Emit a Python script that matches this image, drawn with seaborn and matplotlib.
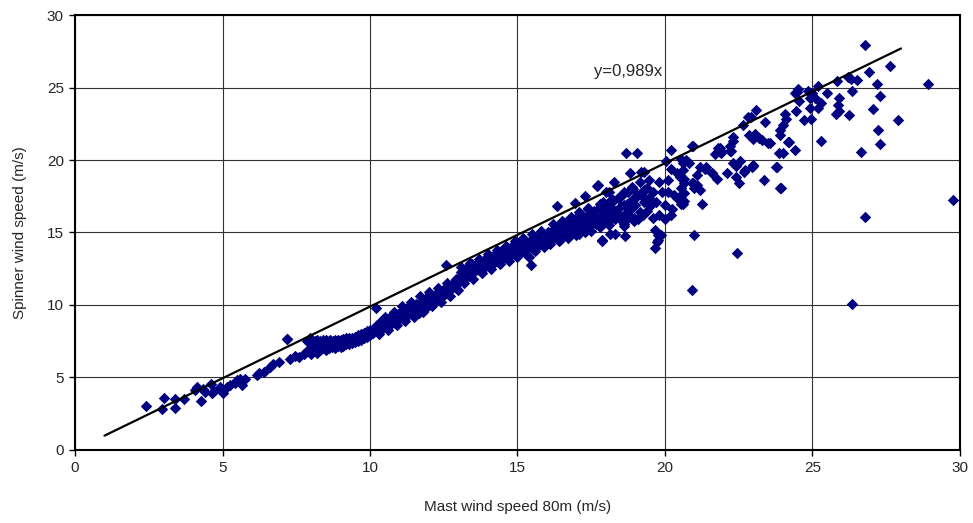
import numpy as np
import pandas as pd
import seaborn as sns
import matplotlib.pyplot as plt

# Sparse low-speed points
low_x = [2.4, 2.95, 3.0, 3.4, 3.4, 3.7, 4.07, 4.13, 4.27, 4.34, 4.4, 4.6, 4.65, 4.7,
         4.9, 5.0, 5.15, 5.25, 5.42, 5.5, 5.6, 5.65, 5.75, 6.16, 6.25, 6.4, 6.6, 6.7,
         6.9, 7.2, 7.3, 7.45, 7.6, 7.75]
low_y = [3.03, 2.8, 3.6, 3.5, 2.9, 3.5, 4.14, 4.35, 3.4, 4.2, 4.0, 4.55, 3.95, 4.1,
         4.37, 3.95, 4.35, 4.45, 4.6, 4.8, 4.87, 4.45, 4.9, 5.17, 5.3, 5.4, 5.7, 5.9,
         6.1, 7.65, 6.3, 6.5, 6.4, 6.6]

# Dense flat cluster 7.8 - 10 m/s
cl_x = [7.8, 7.85, 7.9, 7.95, 8.0, 8.0, 8.05, 8.1, 8.1, 8.15, 8.2, 8.2, 8.25, 8.3, 8.3,
        8.35, 8.4, 8.4, 8.45, 8.5, 8.5, 8.55, 8.6, 8.6, 8.65, 8.7, 8.7, 8.75, 8.8, 8.8,
        8.85, 8.9, 8.9, 8.95, 9.0, 9.0, 9.05, 9.1, 9.1, 9.15, 9.2, 9.2, 9.25, 9.3, 9.3,
        9.35, 9.4, 9.4, 9.45, 9.5, 9.5, 9.55, 9.6, 9.6, 9.65, 9.7, 9.7, 9.75, 9.8, 9.8,
        9.85, 9.9, 9.9, 9.95, 10.0, 10.0]
cl_y = [6.7, 7.5, 6.9, 7.7, 6.6, 7.3, 7.6, 6.8, 7.1, 7.5, 6.7, 7.6, 7.2, 6.9, 7.55,
        7.3, 7.0, 7.6, 7.4, 6.9, 7.6, 7.2, 7.0, 7.5, 7.6, 7.1, 7.4, 7.55, 7.0, 7.6,
        7.3, 7.2, 7.6, 7.45, 7.1, 7.6, 7.35, 7.2, 7.65, 7.5, 7.3, 7.7, 7.5, 7.3, 7.7,
        7.55, 7.4, 7.75, 7.6, 7.45, 7.8, 7.65, 7.5, 7.9, 7.7, 7.6, 8.0, 7.8, 7.7, 8.1,
        7.9, 7.8, 8.2, 8.0, 7.9, 8.3]

# Rising band 10 - 13 m/s
b1_x = [10.1, 10.15, 10.2, 10.25, 10.3, 10.35, 10.4, 10.45, 10.5, 10.55, 10.6, 10.65,
        10.7, 10.75, 10.8, 10.85, 10.9, 10.95, 11.0, 11.05, 11.1, 11.15, 11.2, 11.25,
        11.3, 11.35, 11.4, 11.45, 11.5, 11.55, 11.6, 11.7, 11.75, 11.8, 11.85, 11.9,
        12.0, 12.05, 12.1, 12.2, 12.25, 12.3, 12.4, 12.45, 12.5, 12.6, 12.65, 12.7,
        12.8, 12.85, 12.9, 13.0, 11.65, 11.95, 12.65, 10.85,
        10.3, 10.6, 10.9, 11.2, 11.5, 11.8, 12.1, 12.4, 12.7, 13.0, 10.5, 10.8, 11.1,
        11.4, 11.7, 12.0, 12.3, 12.6, 12.9]
b1_y = [8.1, 8.4, 8.2, 8.6, 8.3, 8.8, 8.5, 8.4, 8.9, 8.6, 8.8, 9.1, 8.7, 9.0, 9.2,
        8.75, 9.1, 9.4, 9.0, 9.3, 9.6, 9.2, 9.5, 9.8, 9.3, 9.7, 9.5, 9.9, 9.6, 10.1,
        9.8, 10.0, 10.3, 9.9, 10.2, 10.5, 10.1, 10.4, 10.7, 10.3, 10.6, 10.9, 10.5,
        10.9, 11.1, 10.8, 11.2, 11.0, 11.3, 11.6, 11.2, 11.5, 9.45, 9.9, 10.9, 8.75,
        8.0, 8.3, 8.6, 8.9, 9.2, 9.5, 9.9, 10.2, 10.6, 11.0, 9.2, 9.5, 9.9,
        10.2, 10.6, 10.9, 11.2, 11.5, 11.8]

# Band 13 - 16 m/s
b2_x = [13.05, 13.1, 13.15, 13.2, 13.3, 13.35, 13.4, 13.45, 13.5, 13.6, 13.65, 13.7,
        13.8, 13.85, 13.9, 14.0, 14.05, 14.1, 14.2, 14.25, 14.3, 14.4, 14.45, 14.5,
        14.6, 14.65, 14.7, 14.8, 14.85, 14.9, 15.0, 15.05, 15.1, 15.2, 15.25, 15.3,
        15.4, 15.45, 15.5, 15.6, 15.65, 15.7, 15.8, 15.85, 15.9, 16.0,
        13.2, 13.5, 13.8, 14.1, 14.4, 14.7, 15.0, 15.3, 15.6, 15.9, 13.4, 13.7, 14.0,
        14.3, 14.6, 14.9, 15.2, 15.5, 15.8, 13.1, 14.2, 14.8, 15.4]
b2_y = [11.9, 12.3, 11.7, 12.1, 12.6, 12.0, 12.4, 12.8, 12.2, 12.6, 12.9, 12.4,
        12.8, 13.1, 12.6, 13.0, 13.3, 12.8, 13.2, 13.5, 13.0, 13.4, 13.7, 13.2,
        13.6, 13.9, 13.3, 13.7, 14.0, 13.5, 13.8, 14.2, 13.6, 14.0, 14.3, 13.8,
        14.2, 14.5, 13.9, 14.3, 14.6, 14.1, 14.5, 14.8, 14.2, 14.6,
        11.5, 11.8, 12.2, 12.5, 12.8, 13.0, 13.3, 13.5, 13.7, 14.0, 12.9, 13.2, 13.5,
        13.8, 14.1, 14.4, 14.6, 14.9, 15.1, 12.6, 12.9, 14.1, 13.3]

# Widening band 16 - 19.5 m/s
b3_x = [16.05, 16.1, 16.15, 16.2, 16.25, 16.3, 16.35, 16.4, 16.45, 16.5, 16.55, 16.6,
        16.65, 16.7, 16.75, 16.8, 16.85, 16.9, 16.95, 17.0, 17.05, 17.1, 17.15, 17.2,
        17.25, 17.3, 17.35, 17.4, 17.45, 17.5, 17.55, 17.6, 17.65, 17.7, 17.75, 17.8,
        17.85, 17.9, 17.95, 18.0, 18.05, 18.1, 18.15, 18.2, 18.25, 18.3, 18.35, 18.4,
        18.45, 18.5, 18.55, 18.6, 18.65, 18.7, 18.75, 18.8, 18.85, 18.9, 18.95, 19.0,
        19.05, 19.1, 19.15, 19.2, 19.25, 19.3, 19.35, 19.4, 19.45, 19.5,
        17.2, 17.6, 17.9, 18.1, 18.3, 18.4, 18.6, 18.8, 19.0, 19.2, 19.4, 17.4, 17.8,
        18.2, 18.5, 18.9,
        16.1, 16.4, 16.7, 17.0, 17.3, 16.2, 16.5, 16.8, 17.1, 17.4]
b3_y = [15.0, 14.4, 14.8, 15.2, 14.6, 15.0, 15.4, 14.7, 15.1, 15.5, 14.9, 15.3,
        15.7, 15.0, 15.4, 15.8, 15.1, 15.6, 15.2, 16.0, 15.4, 14.9, 15.8, 16.2,
        15.3, 15.7, 16.1, 15.5, 16.3, 15.1, 15.9, 16.5, 15.6, 16.0, 16.7, 15.4,
        16.2, 16.8, 15.8, 16.4, 17.0, 15.5, 16.1, 16.6, 17.2, 15.9, 16.4, 17.4,
        16.0, 16.8, 17.6, 15.7, 16.3, 17.0, 17.8, 16.1, 16.6, 17.3, 16.0, 16.9,
        17.5, 15.9, 16.4, 17.7, 16.2, 17.1, 18.0, 16.5, 17.4, 16.8,
        15.6, 16.2, 16.0, 15.8, 16.5, 16.2, 16.9, 17.1, 17.4, 17.6, 18.1, 16.6, 17.0,
        17.3, 17.5, 18.0,
        14.2, 14.4, 14.6, 14.8, 15.0, 15.6, 15.8, 16.1, 16.4, 16.7]

# Scattered points above 17 m/s
hi_x = [19.15, 19.45, 19.8, 20.1, 18.87, 18.6, 19.3, 19.6, 20.1, 20.4, 20.65, 17.9,
        17.74, 18.27, 18.1, 18.81, 19.3, 20.05, 20.6, 20.2, 20.4, 20.65, 20.55, 17.7,
        17.3, 16.95, 18.0, 19.2, 17.68, 17.5, 17.9, 18.6, 18.95, 19.6, 20.0, 18.14,
        18.64, 19.85, 19.77, 17.88, 16.44, 17.85, 18.3, 18.6, 19.7, 19.9, 20.0, 20.25,
        20.3, 20.5, 20.8, 20.9, 19.66, 19.8, 20.2, 20.6,
        21.2, 21.35, 21.1, 21.58, 21.75, 22.1, 22.4, 22.4, 22.7, 22.5, 23.0, 23.36,
        23.79, 23.9, 20.65, 20.95, 21.0, 21.2, 20.65, 21.24, 20.55, 21.1, 21.8, 21.9,
        22.2, 21.7, 22.3, 22.95, 21.4, 21.6, 20.96, 20.56, 20.7, 20.6, 20.5, 22.3,
        22.3, 22.2, 21.86, 21.9, 22.25, 22.65, 22.85, 23.05, 23.2, 23.0, 23.56, 24.2,
        24.4, 24.0, 23.87, 22.8, 23.1, 23.4, 24.07, 24.1, 24.0, 23.9, 23.9, 22.54,
        22.99, 23.76, 22.68, 23.92, 24.45, 24.46, 24.5, 24.4, 24.86, 25.0, 25.5, 24.55,
        24.9, 25.1, 25.9, 25.3, 24.9, 25.2, 25.85, 25.9, 25.8, 24.7, 24.95, 25.29,
        24.16, 25.2, 25.84, 26.2, 26.3, 26.5, 26.33, 26.9, 27.63, 27.2, 27.3, 26.24,
        27.04, 27.23, 27.3, 23.3, 23.5, 22.9]
hi_y = [18.5, 18.6, 18.5, 18.6, 18.16, 17.8, 17.9, 17.8, 17.8, 17.4, 17.2, 17.1,
        18.27, 18.5, 17.8, 19.1, 19.2, 19.9, 19.8, 19.35, 19.1, 18.7, 18.1, 18.2,
        17.5, 17.05, 17.8, 19.2, 15.75, 15.5, 15.65, 15.6, 15.8, 16.0, 15.9, 14.9,
        14.76, 14.8, 14.48, 14.45, 14.48, 14.43, 14.9, 15.45, 17.1, 17.8, 16.9, 16.6,
        17.6, 17.5, 19.8, 18.4, 15.17, 16.2, 16.2, 17.0,
        19.5, 19.4, 19.0, 19.1, 18.7, 19.1, 19.6, 18.8, 19.3, 18.4, 19.6, 18.6,
        19.54, 18.1, 18.4, 18.4, 18.1, 17.9, 17.7, 17.0, 17.0, 18.3, 20.8, 20.6,
        20.6, 20.4, 19.8, 19.5, 19.5, 19.1, 20.97, 20.07, 20.0, 19.3, 18.85, 21.6,
        21.3, 21.0, 20.8, 20.5, 20.6, 22.4, 21.7, 21.8, 21.5, 21.45, 21.15, 21.26,
        20.7, 20.5, 20.46, 23.0, 23.45, 22.65, 23.2, 22.8, 22.4, 22.1, 21.7, 19.9,
        19.66, 19.54, 19.2, 18.1, 23.4, 24.7, 24.9, 24.6, 24.76, 24.6, 24.6, 24.1,
        24.3, 24.3, 24.25, 23.9, 23.6, 23.6, 23.8, 23.35, 23.2, 22.75, 22.85, 21.3,
        21.26, 25.1, 25.47, 25.75, 25.6, 25.5, 24.76, 26.05, 26.5, 25.24, 24.4, 23.1,
        23.5, 22.07, 21.1, 21.4, 21.2, 23.0]

# Outliers
out_x = [7.2, 10.2, 12.58, 15.46, 16.35, 18.68, 19.04, 20.2, 20.9, 19.66, 19.72,
         19.77, 21.0, 20.9, 22.45, 26.33, 26.78, 29.77, 26.78, 28.9, 27.9, 26.63]
out_y = [7.65, 9.8, 12.76, 12.76, 16.8, 20.46, 20.5, 20.7, 21.0, 13.95, 14.35,
         14.8, 14.8, 11.0, 13.6, 10.05, 16.05, 17.24, 27.9, 25.24, 22.76, 20.57]

# fitted line y = 0.989x
slope = 0.989
line_x = [1, 28]

mast = low_x + cl_x + b1_x + b2_x + b3_x + hi_x + out_x
spinner = low_y + cl_y + b1_y + b2_y + b3_y + hi_y + out_y
df = pd.DataFrame({'mast': mast, 'spinner': spinner})

sns.set_style('white')
plt.rcParams['font.family'] = ['Liberation Sans', 'DejaVu Sans']

fig = plt.figure(figsize=(9.73, 5.23), dpi=100)
ax = fig.add_axes([0.0771, 0.1396, 0.9095, 0.8317])

sns.scatterplot(data=df, x='mast', y='spinner', marker='D', color='#000080',
                s=34, linewidth=0, legend=False, ax=ax, zorder=3)
ax.plot(line_x, [slope * v for v in line_x], color='black', lw=1.6, zorder=4)
ax.text(17.6, 26.1, 'y=0,989x', fontsize=12, va='center', ha='left')

ax.set_xlim(0, 30)
ax.set_ylim(0, 30)
ax.set_xticks(range(0, 31, 5))
ax.set_yticks(range(0, 31, 5))
ax.grid(True, color='#333333', lw=0.8)
ax.set_axisbelow(True)
for s in ax.spines.values():
    s.set_color('black')
    s.set_linewidth(1.5)
ax.tick_params(axis='both', direction='out', length=4, width=1, color='black',
               labelsize=11, pad=4, bottom=True, left=True)
ax.set_xlabel('Mast wind speed 80m (m/s)', fontsize=11, labelpad=18)
ax.set_ylabel('Spinner wind speed (m/s)', fontsize=11, labelpad=14)

fig.savefig('out.png', dpi=100)
